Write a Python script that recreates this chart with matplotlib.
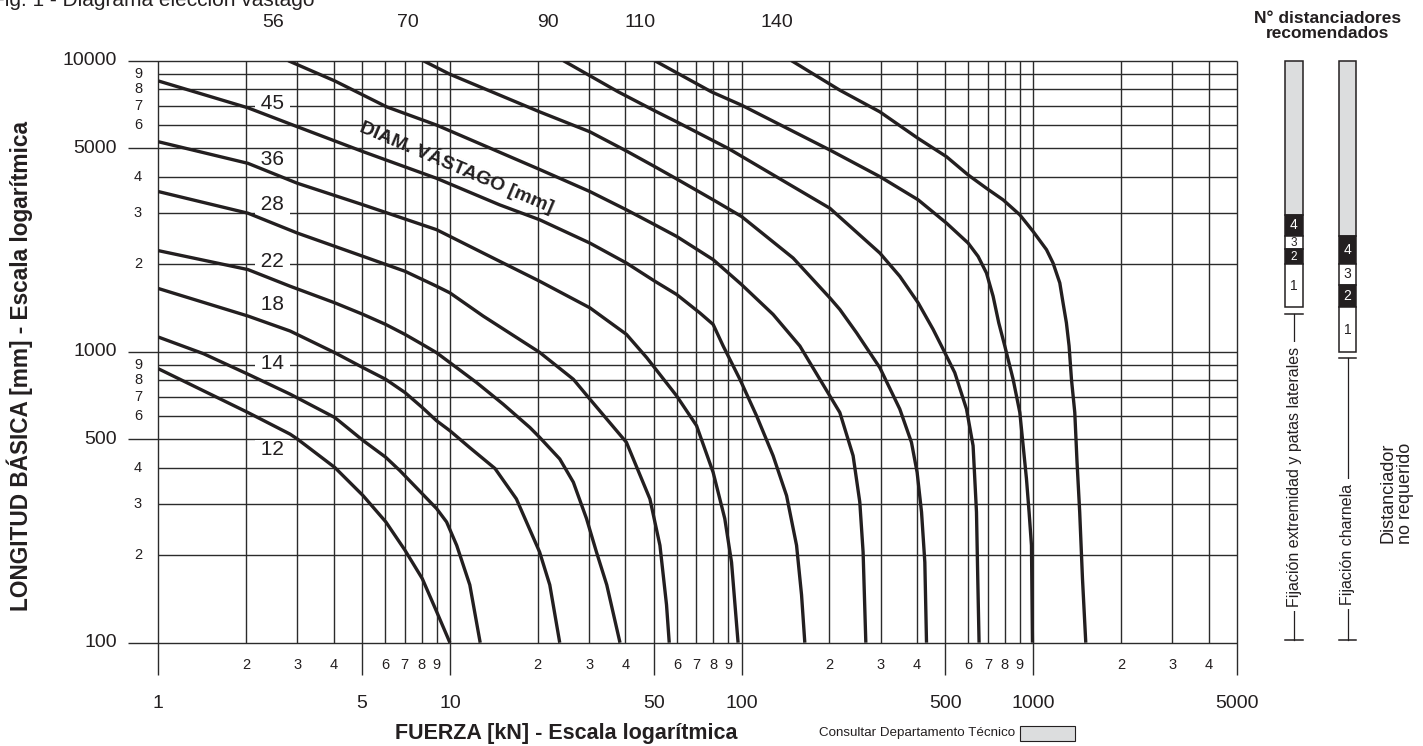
import numpy as np
import matplotlib
matplotlib.use('Agg')
import matplotlib.pyplot as plt

plt.rcParams['font.family'] = ['Liberation Sans', 'DejaVu Sans']

ink = '#231f20'
grid_c = '#2b2b2b'
gray = '#dcddde'

# diametros de vastago [mm]
diam = [12, 14, 18, 22, 28, 36, 45, 56, 70, 90, 110, 140]

f_12 = [1, 2.03, 2.83, 3.0, 4.03, 5.04, 6.03, 7.01, 8.04, 9.0, 10]
l_12 = [874, 618, 521, 501, 400, 320, 260, 208, 166, 128, 100]
f_14 = [1, 1.43, 2.03, 2.83, 4.03, 5.04, 6.02, 6.74, 9.0, 9.74, 10.55, 11.7, 12.7]
l_14 = [1123, 984, 837, 715, 594, 495, 434, 390, 289, 260, 216, 158, 100]
f_18 = [1, 2.03, 2.83, 4.03, 5.04, 6.02, 7.01, 8.04, 9.0, 10, 11.7, 14.27, 16.9, 20.3, 22.0, 23.8]
l_18 = [1649, 1326, 1178, 992, 881, 804, 724, 643, 579, 535, 468, 397, 312, 205, 158, 100]
f_22 = [1, 2.03, 2.83, 4.03, 5.04, 6.02, 7.01, 8.04, 9.0, 10, 12.35, 15.23, 18.8, 20.3, 23.8,
        26.5, 29.4, 31.8, 34.5, 38.3]
l_22 = [2225, 1915, 1679, 1472, 1343, 1241, 1147, 1060, 992, 917, 783, 660, 549, 508, 428,
        356, 267, 205, 158, 100]
f_28 = [1, 2.03, 3.0, 5.04, 7.01, 9.0, 10, 13.0, 20.3, 26.5, 30.2, 40.3, 48.5, 52.5, 55.3, 56.5]
l_28 = [3551, 2992, 2556, 2126, 1890, 1679, 1593, 1326, 995, 804, 687, 488, 312, 216, 135, 100]
f_36 = [1, 2.03, 3.0, 5.04, 9.0, 13.0, 20.3, 30.2, 40.3, 47.3, 59.9, 70.1, 79.9, 87.6, 92.4, 97.3]
l_36 = [5267, 4439, 3791, 3197, 2626, 2183, 1747, 1415, 1147, 954, 705, 557, 385, 267, 189, 100]
f_45 = [1, 2.03, 3.0, 5.04, 9.0, 14.8, 20.3, 30.2, 40.3, 50.4, 59.9, 71.9, 79.9, 86.5, 98.7,
        112.6, 128.3, 142.7, 154.4, 160.6, 164.8]
l_45 = [8520, 6887, 5929, 4868, 3943, 3197, 2841, 2362, 2017, 1747, 1573, 1360, 1241, 1046, 804,
        602, 439, 320, 216, 146, 100]
f_56 = [2.79, 4.03, 6.07, 9.0, 20.3, 30.2, 40.3, 50.4, 59.9, 79.9, 100, 128.3, 158.5, 200.8,
        217.3, 241.3, 254.4, 261.1, 266.8]
l_56 = [10000, 8520, 6940, 6008, 4230, 3551, 3073, 2731, 2490, 2072, 1701, 1343, 1046, 705,
        618, 439, 304, 205, 100]
f_70 = [8.1, 10, 20.3, 30.2, 40.3, 50.4, 59.9, 79.9, 100, 150.3, 200.8, 217.3, 248, 298, 348.9,
        382.5, 400, 414.2, 425.1, 430.8]
l_70 = [10000, 8983, 6673, 5697, 4894, 4325, 3924, 3326, 2915, 2098, 1531, 1397, 1161, 881, 635,
        488, 385, 281, 189, 100]
f_90 = [24.5, 37.8, 50.4, 59.9, 90, 200.8, 298, 348.9, 403.3, 453.9, 485, 538.5, 590.8, 622.3,
        639.2, 645.7, 652.4]
l_90 = [10000, 7813, 6725, 6166, 4995, 3112, 2183, 1816, 1472, 1193, 1046, 847, 635, 475,
        281, 166, 100]
f_110 = [50.4, 78.9, 100, 200.8, 298, 403.3, 504.4, 598.4, 647.4, 691.6, 728.8, 762, 799.3,
         853.5, 900, 948.4, 968.3, 986.7, 994.5]
l_110 = [10000, 7813, 7035, 4933, 3997, 3326, 2766, 2362, 2126, 1864, 1551, 1257, 1046,
         804, 618, 366, 281, 216, 100]
f_140 = [148.4, 217.3, 298, 403.3, 504.4, 598.4, 691.6, 788.5, 900, 999.4, 1111, 1170, 1234,
         1266, 1300, 1328, 1353, 1389, 1414, 1444, 1476, 1515]
l_140 = [10000, 7918, 6673, 5406, 4679, 4050, 3644, 3326, 2954, 2590, 2242, 2017, 1723,
         1472, 1257, 1046, 804, 618, 417, 281, 166, 100]

curves = [(f_12, l_12), (f_14, l_14), (f_18, l_18), (f_22, l_22), (f_28, l_28), (f_36, l_36),
          (f_45, l_45), (f_56, l_56), (f_70, l_70), (f_90, l_90), (f_110, l_110), (f_140, l_140)]

# escalas logaritmicas
x_major = [1, 5, 10, 50, 100, 500, 1000, 5000]
x_minor = [2, 3, 4, 6, 7, 8, 9, 20, 30, 40, 60, 70, 80, 90, 200, 300, 400, 600, 700, 800, 900,
           2000, 3000, 4000]
y_major = [100, 500, 1000, 5000, 10000]
y_minor = [200, 300, 400, 600, 700, 800, 900, 2000, 3000, 4000, 6000, 7000, 8000, 9000]

# distanciadores recomendados, limites de los tramos de arriba abajo
bar_ext = [10000, 2950, 2500, 2250, 2000, 1420]     # fijacion extremidad y patas laterales
bar_hinge = [10000, 2500, 2000, 1700, 1420, 1000]   # fijacion charnela
bar_marks = ['', '4', '3', '2', '1']

# figure layout (pixels)
W, H = 1423, 746
x0, x1 = 158.3, 1237.0     # F = 1 .. 5000
y0, y1 = 642.7, 60.7       # L = 100 .. 10000 (from top)
dx = (x1 - x0) / np.log10(5000)
dy = (y0 - y1) / 2.0


def fx(px):
    return 10 ** ((px - x0) / dx)


def fy(py):
    return 10 ** (2 + (y0 - py) / dy)


fig = plt.figure(figsize=(W / 100, H / 100), dpi=100)
ax = fig.add_axes([x0 / W, 1 - y0 / H, (x1 - x0) / W, (y0 - y1) / H])
ax.set_xscale('log')
ax.set_yscale('log')
ax.set_xlim(1, 5000)
ax.set_ylim(100, 10000)
ax.axis('off')

glw = 1.0
# rejilla
for v in x_minor:
    ax.plot([v, v], [100, 10000], color=grid_c, lw=glw, solid_capstyle='butt', zorder=1)
for v in x_major:
    ax.plot([v, v], [fy(675), 10000], color=grid_c, lw=glw, solid_capstyle='butt',
            zorder=1, clip_on=False)
for v in y_minor:
    ax.plot([1, 5000], [v, v], color=grid_c, lw=glw, solid_capstyle='butt', zorder=1)
for v in y_major:
    ax.plot([fx(128), 5000], [v, v], color=grid_c, lw=glw, solid_capstyle='butt',
            zorder=1, clip_on=False)

# etiquetas de los ejes
for v in y_major:
    ax.text(fx(117), v, str(v), ha='right', va='center', fontsize=14, color=ink)
for v in y_minor:
    ax.text(fx(138), v, str(v)[0], ha='center', va='center', fontsize=10.5, color=ink)
for v in x_minor:
    ax.text(v, fy(665), str(v)[0], ha='center', va='center', fontsize=10.5, color=ink)
for v in x_major:
    ax.text(v, fy(703), str(v), ha='center', va='center', fontsize=14, color=ink)

# curvas
for f, l in curves:
    ax.plot(f, l, color=ink, lw=2.4, solid_joinstyle='round', solid_capstyle='butt', zorder=4)

# diametros arriba
for d, (f, l) in zip(diam, curves):
    if l[0] >= 10000:
        ax.text(f[0] * 10 ** (-15 / dx), fy(22), str(d), ha='center', va='center',
                fontsize=14, color=ink)

# diametros dentro
inner_py = {45: 103.5, 36: 159.5, 28: 205, 22: 262, 18: 305, 14: 364, 12: 450}
for d, py in inner_py.items():
    ax.text(fx(272.5), fy(py), ' %d ' % d, ha='center', va='center', fontsize=15, color=ink,
            zorder=3, bbox=dict(boxstyle='square,pad=0.02', fc='white', ec='none'))

ax.text(fx(457), fy(166.5), 'DIAM. VÁSTAGO [mm]', rotation=-23, rotation_mode='anchor',
        ha='center', va='center', fontsize=14, fontweight='bold', color=ink, zorder=5)

fig.text(19.5 / W, 1 - 366 / H, 'LONGITUD BÁSICA [mm] - Escala logarítmica', rotation=90,
         ha='center', va='center', fontsize=16.3, fontweight='bold', color=ink)
fig.text(566 / W, 1 - 733 / H, 'FUERZA [kN] - Escala logarítmica', ha='center', va='center',
         fontsize=15.5, fontweight='bold', color=ink)
fig.text(-8 / W, 1 - 6.5 / H, 'Fig. 1 - Diagrama elección vástago', ha='left', va='baseline',
         fontsize=15, color=ink)
fig.text(1015 / W, 1 - 733 / H, 'Consultar Departamento Técnico', ha='right', va='center',
         fontsize=9.6, color=ink)
fig.patches.append(plt.Rectangle((1020 / W, 1 - 741 / H), 55 / W, 15 / H, fc=gray, ec=ink,
                                 lw=0.8, transform=fig.transFigure, figure=fig))

# panel de distanciadores
side = fig.add_axes([1245 / W, 1 - y0 / H, (W - 1245) / W, (y0 - y1) / H])
side.set_yscale('log')
side.set_xlim(1245, W)
side.set_ylim(100, 10000)
side.axis('off')

bar_w = 17.7
for cx, bounds in [(1294, bar_ext), (1347.5, bar_hinge)]:
    for i, mark in enumerate(bar_marks):
        top, bot = bounds[i], bounds[i + 1]
        fc = gray if mark == '' else (ink if mark in ('4', '2') else 'white')
        side.bar(cx, top - bot, bottom=bot, width=bar_w, color=fc, edgecolor=ink, lw=1.1,
                 zorder=2, clip_on=False)
        if mark:
            seg_h = np.log10(top / bot) * dy
            side.text(cx, np.sqrt(top * bot), mark, ha='center', va='center',
                      fontsize=8.5 if seg_h < 17 else 10,
                      color='white' if fc == ink else ink, zorder=3)
    # llave inferior
    b_top = bounds[-1] * 10 ** (-6.5 / dy)
    b_bot = fy(640)
    side.plot([cx, cx], [b_top, b_bot], color=ink, lw=0.9, zorder=1)
    for yy in (b_top, b_bot):
        side.plot([cx - bar_w / 2, cx + bar_w / 2], [yy, yy], color=ink, lw=1.1, zorder=1)

side.text(1294, fy(476.5), 'Fijación extremidad y patas laterales', rotation=90, ha='center',
          va='center', fontsize=11.5, color=ink, zorder=3,
          bbox=dict(boxstyle='square,pad=0.3', fc='white', ec='none'))
side.text(1347.5, fy(544), 'Fijación charnela', rotation=90, ha='center', va='center',
          fontsize=11.5, color=ink, zorder=3,
          bbox=dict(boxstyle='square,pad=0.3', fc='white', ec='none'))
side.text(1397, fy(493), 'Distanciador\nno requerido', rotation=90, ha='center', va='center',
          fontsize=13, color=ink, linespacing=1.0, multialignment='center')
fig.text(1328 / W, 1 - 26 / H, 'N° distanciadores\nrecomendados', ha='center', va='center',
         fontsize=12.5, fontweight='bold', color=ink, linespacing=1.05)

fig.savefig('out.png', dpi=100)
